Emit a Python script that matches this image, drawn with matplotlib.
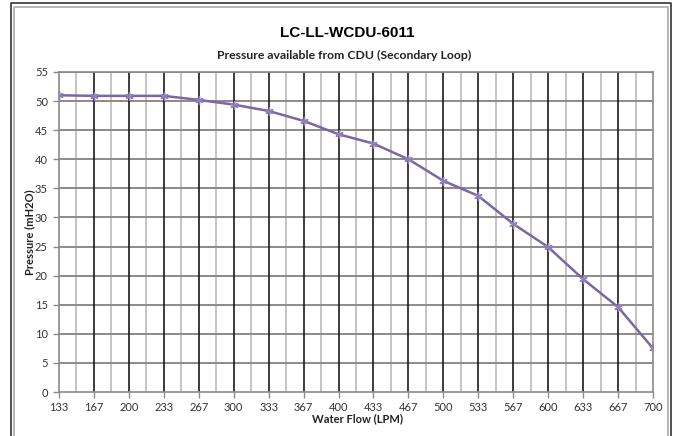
import matplotlib
matplotlib.use("Agg")
import matplotlib.pyplot as plt
from matplotlib.lines import Line2D
import numpy as np

flow_labels = ["133", "167", "200", "233", "267", "300", "333", "367", "400",
               "433", "467", "500", "533", "567", "600", "633", "667", "700"]
pressure = [51.0, 50.9, 50.9, 50.9, 50.2, 49.4, 48.3, 46.6, 44.3,
            42.7, 40.0, 36.3, 33.7, 28.9, 24.9, 19.4, 14.6, 7.5]
y_ticks = [0, 5, 10, 15, 20, 25, 30, 35, 40, 45, 50, 55]

title = "LC-LL-WCDU-6011"
subtitle = "Pressure available from CDU (Secondary Loop)"
xlabel = "Water Flow (LPM)"
ylabel = "Pressure (mH2O)"

narrow = ["Lato", "DejaVu Sans"]

fig = plt.figure(figsize=(6.78, 4.36), dpi=100)
ax = fig.add_axes([59/678, 1-392/436, (653-59)/678, (392-72)/436])

x = np.arange(len(flow_labels))
ax.set_xlim(0, len(flow_labels) - 1)
ax.set_ylim(0, 55)

# gridlines
for yv in y_ticks[1:]:
    ax.axhline(yv, color="#8a8a8a", lw=1.4, zorder=1)
for xv in x[1:-1]:
    ax.axvline(xv, color="#1a1a1a", lw=1.2, zorder=1)
for xv in x[:-1] + 0.5:
    ax.axvline(xv, color="#c4c4c4", lw=1.4, zorder=0.9)

ax.plot(x, pressure, color="#7b66a6", lw=1.8, marker=(6, 2, 0),
        markersize=6, markeredgewidth=1.0, markeredgecolor="#9080bb", zorder=3)

for s in ax.spines.values():
    s.set_color("#8a8a8a")
    s.set_linewidth(1.2)

ax.set_xticks(x)
ax.set_xticklabels(flow_labels, family=narrow, fontsize=8, color="#333333")
ax.set_yticks(y_ticks)
ax.set_yticklabels([str(v) for v in y_ticks], family=narrow, fontsize=8, color="#333333")
ax.tick_params(axis="both", direction="out", length=4, color="#8a8a8a", width=1)
ax.tick_params(axis="y", pad=4)
ax.tick_params(axis="x", pad=3)

fig.text(347/678, 1-33/436, title, ha="center", va="center",
         fontsize=11, fontweight="bold", family=["Liberation Sans", "DejaVu Sans"])
fig.text(344/678, 1-55/436, subtitle, ha="center", va="center",
         fontsize=8.8, fontweight="bold", family=narrow, color="#222222")
fig.text(358/678, 1-419/436, xlabel, ha="center", va="center",
         fontsize=8, fontweight="bold", family=narrow, color="#222222")
fig.text(30/678, 1-232/436, ylabel, ha="center", va="center", rotation=90,
         fontsize=8, fontweight="bold", family=narrow, color="#222222")

# outer frame
def fl(xs, ys, c, lw):
    fig.add_artist(Line2D([v/678 for v in xs], [1 - v/436 for v in ys],
                          color=c, lw=lw, transform=fig.transFigure))
fl([11, 11, 671, 671], [436, 3, 3, 436], "#333333", 1.2)
fl([14, 14, 668, 668], [436, 7, 7, 436], "#aaaaaa", 1.2)

fig.savefig("out.png", dpi=100, facecolor="white")
